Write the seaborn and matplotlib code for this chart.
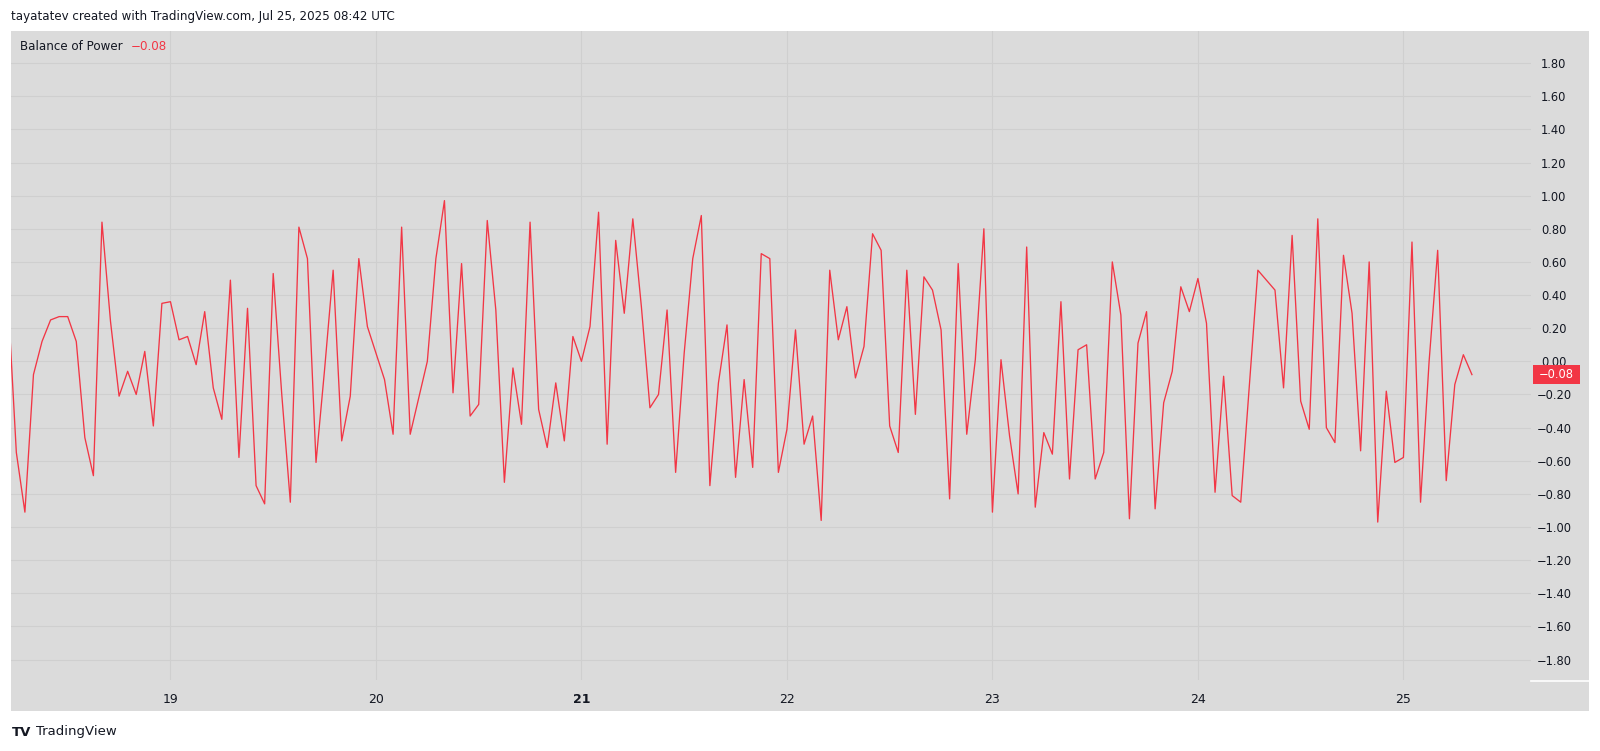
import pandas as pd
import seaborn as sns
import matplotlib.pyplot as plt
import matplotlib.transforms as mtransforms
from matplotlib.patches import Rectangle

# hourly Balance of Power values, Jul 18 05:00 -> Jul 25 08:00 (UTC)
start_time = "2025-07-18 05:00"
bop = [
    0.40, -0.55, -0.91, -0.08, 0.12, 0.25, 0.27, 0.27, 0.12, -0.46, -0.69,
    0.84, 0.24, -0.21, -0.06, -0.20, 0.06, -0.39, 0.35, 0.36, 0.13, 0.15,
    -0.02, 0.30, -0.16, -0.35, 0.49, -0.58, 0.32, -0.75, -0.86, 0.53, -0.20,
    -0.85, 0.81, 0.62, -0.61, -0.05, 0.55, -0.48, -0.21, 0.62, 0.21, 0.05,
    -0.11, -0.44, 0.81, -0.44, -0.22, 0.00, 0.62, 0.97, -0.19, 0.59, -0.33,
    -0.26, 0.85, 0.31, -0.73, -0.04, -0.38, 0.84, -0.29, -0.52, -0.13, -0.48,
    0.15, 0.00, 0.21, 0.90, -0.50, 0.73, 0.29, 0.86, 0.33, -0.28, -0.20,
    0.31, -0.67, 0.05, 0.62, 0.88, -0.75, -0.13, 0.22, -0.70, -0.11, -0.64,
    0.65, 0.62, -0.67, -0.41, 0.19, -0.50, -0.33, -0.96, 0.55, 0.13, 0.33,
    -0.10, 0.09, 0.77, 0.67, -0.39, -0.55, 0.55, -0.32, 0.51, 0.43, 0.19,
    -0.83, 0.59, -0.44, 0.01, 0.80, -0.91, 0.01, -0.45, -0.80, 0.69, -0.88,
    -0.43, -0.56, 0.36, -0.71, 0.07, 0.10, -0.71, -0.55, 0.60, 0.28, -0.95,
    0.11, 0.30, -0.89, -0.25, -0.06, 0.45, 0.30, 0.50, 0.23, -0.79, -0.09,
    -0.81, -0.85, -0.15, 0.55, 0.49, 0.43, -0.16, 0.76, -0.24, -0.41, 0.86,
    -0.40, -0.49, 0.64, 0.29, -0.54, 0.60, -0.97, -0.18, -0.61, -0.58, 0.72,
    -0.85, 0.00, 0.67, -0.72, -0.14, 0.04, -0.08,
]
last_value = -0.08

price_ticks = [-1.8, -1.6, -1.4, -1.2, -1.0, -0.8, -0.6, -0.4, -0.2, 0.0,
               0.2, 0.4, 0.6, 0.8, 1.0, 1.2, 1.4, 1.6, 1.8]
day_ticks = ["2025-07-19", "2025-07-20", "2025-07-21", "2025-07-22",
             "2025-07-23", "2025-07-24", "2025-07-25"]
day_labels = ["19", "20", "21", "22", "23", "24", "25"]

RED = "#f23645"
BG = "#dbdbdb"
GRID = "#cfcfcf"
TXT = "#131722"

df = pd.DataFrame({
    "time": pd.date_range(start_time, periods=len(bop), freq="h"),
    "bop": bop,
})

W, H = 1600, 751
fig = plt.figure(figsize=(W / 100, H / 100), dpi=100)
fig.patch.set_facecolor("white")

# grey chart panel (plot + price scale + time scale)
fig.patches.append(Rectangle((11.2 / W, 1 - 711 / H), (1589 - 11.2) / W, (711 - 30.6) / H,
                             transform=fig.transFigure, facecolor=BG, edgecolor="none", zorder=-5))

ax = fig.add_axes([11.2 / W, 1 - 680 / H, (1531 - 11.2) / W, (680 - 30.6) / H])
ax.set_facecolor(BG)

sns.lineplot(data=df, x="time", y="bop", ax=ax, color=RED, linewidth=0.95)

ax.set_xlim(pd.Timestamp("2025-07-18 05:24"), pd.Timestamp("2025-07-25 14:54"))
ax.set_ylim(-1.923, 1.996)

ax.set_yticks(price_ticks)
ax.set_yticklabels([f"{v:.2f}".replace("-", "\u2212") if abs(v) > 1e-9 else "0.00" for v in price_ticks])
ax.yaxis.tick_right()
ax.tick_params(axis="y", length=0, pad=16.5, labelsize=8.3, labelcolor=TXT)
for lab in ax.get_yticklabels():
    lab.set_horizontalalignment("center")

ax.set_xticks(pd.to_datetime(day_ticks))
ax.set_xticklabels(day_labels)
ax.tick_params(axis="x", length=0, pad=9.5, labelsize=9, labelcolor=TXT)
for lab in ax.get_xticklabels():
    if lab.get_text() == "21":
        lab.set_fontweight("bold")

ax.grid(True, color=GRID, linewidth=0.8)
ax.set_axisbelow(True)
ax.set_xlabel("")
ax.set_ylabel("")
for s in ax.spines.values():
    s.set_visible(False)

# white separator below the price scale
fig.add_artist(plt.Line2D([1531 / W, 1589 / W], [1 - 680.5 / H, 1 - 680.5 / H],
                          transform=fig.transFigure, color="white", linewidth=1.2))

# last value badge on the price scale
blend = mtransforms.blended_transform_factory(fig.transFigure, ax.transData)
badge_h = 18.5 / 165.7
ax.add_patch(Rectangle((1533 / W, last_value - badge_h / 2), 47 / W, badge_h,
                       transform=blend, facecolor=RED, edgecolor="none", clip_on=False, zorder=5))
ax.text(1556.5 / W, last_value, "\u22120.08", transform=blend, ha="center", va="center",
        color="white", fontsize=8.3, clip_on=False, zorder=6)

# header, legend, logo
fig.text(11.2 / W, 1 - 16.5 / H, "tayatatev created with TradingView.com, Jul 25, 2025 08:42 UTC",
         ha="left", va="center", fontsize=8.6, color=TXT)
fig.text(20.4 / W, 1 - 47 / H, "Balance of Power", ha="left", va="center", fontsize=8.6, color=TXT)
fig.text(130.6 / W, 1 - 47 / H, "\u22120.08", ha="left", va="center", fontsize=8.6, color=RED)
fig.text(12 / W, 1 - 732 / H, "TV", ha="left", va="center", fontsize=9.5, fontweight="heavy", color=TXT)
fig.text(36 / W, 1 - 732 / H, "TradingView", ha="left", va="center", fontsize=9.5, color=TXT)

fig.savefig("out.png", dpi=100, facecolor="white")
